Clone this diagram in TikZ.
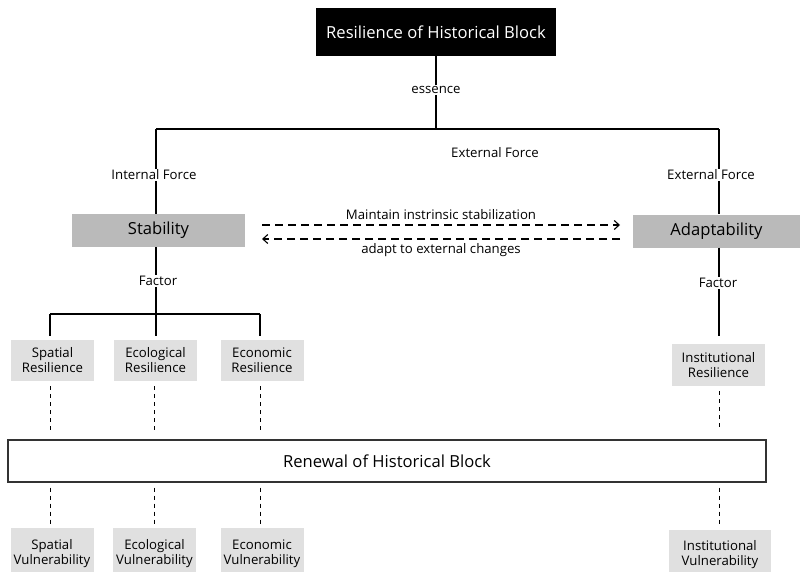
\documentclass[tikz,border=0pt]{standalone}
\usepackage{fontspec}
\setmainfont{Open Sans}
\usetikzlibrary{arrows.meta}
\begin{document}
\begin{tikzpicture}[x=1pt,y=-1pt,
  lbl/.style={font=\fontsize{13.2}{14}\selectfont, inner sep=1pt},
  topbox/.style={fill=black, text=white, font=\fontsize{16.6}{18}\selectfont, minimum width=240, minimum height=48, inner sep=0},
  midbox/.style={fill=black!27, font=\fontsize{16.6}{18}\selectfont, minimum width=173, minimum height=33, inner sep=0},
  smallbox/.style={fill=black!12, font=\fontsize{13.2}{15}\selectfont, align=center, minimum width=83, minimum height=41, inner sep=0},
  link/.style={line width=1.5pt, black},
  dlink/.style={line width=1pt, dash pattern=on 4pt off 4pt},
  darrow/.style={line width=1.1pt, dash pattern=on 8pt off 5pt, -{Straight Barb[length=5pt,width=9pt,line width=1.1pt]}}
]
\useasboundingbox (0,0) rectangle (800,572);
\fill[white] (0,0) rectangle (800,572);

\node[topbox] (top) at (436,32) {Resilience of Historical Block};
\node[lbl] (ess) at (436,90) {essence};
\coordinate (hl) at (156,129);
\coordinate (hr) at (719,129);
\coordinate (hm) at (436,129);
\node[lbl] (ext) at (495,153) {External Force};
\node[lbl] (intf) at (154,175) {Internal Force};
\node[lbl] (extr) at (711,175) {External Force};

\node[midbox] (stab) at (158.5,230.5) {Stability};
\node[midbox, minimum width=167] (adap) at (716.5,231) {Adaptability};

\node[lbl] (fac1) at (158,281) {Factor};
\node[lbl] (fac2) at (718,283) {Factor};

\coordinate (fh) at (156,314);
\coordinate (fl) at (50,314);
\coordinate (fr) at (260,314);

\node[smallbox] (sr) at (52.5,360.5) {Spatial\\Resilience};
\node[smallbox] (er) at (155.5,360.5) {Ecological\\Resilience};
\node[smallbox] (cr) at (262,360.5) {Economic\\Resilience};
\node[smallbox, minimum width=93, minimum height=42] (ir) at (718.5,365) {Institutional\\Resilience};

\node[draw=black!80, line width=1.2pt, minimum width=758, minimum height=42, inner sep=0, font=\fontsize{16.6}{18}\selectfont] (ren) at (387,461) {Renewal of Historical Block};

\node[smallbox, minimum height=52] (sv) at (52,554) {Spatial\\Vulnerability};
\node[smallbox, minimum height=52] (ev) at (154.5,554) {Ecological\\Vulnerability};
\node[smallbox, minimum height=52] (cv) at (262,554) {Economic\\Vulnerability};
\node[smallbox, minimum width=102, minimum height=49] (iv) at (720,554.5) {Institutional\\Vulnerability};

% tree links
\draw[link] (top.south) -- (ess.north);
\draw[link] (ess.south) -- (hm);
\draw[link] (hl) -- (hr);
\draw[link] (hl) -- (intf.north -| hl);
\draw[link] (hr) -- (extr.north -| hr);
\draw[link] (intf.south -| hl) -- (stab.north -| hl);
\draw[link] (extr.south -| hr) -- (adap.north -| hr);
\draw[link] (stab.south -| fh) -- (fac1.north -| fh);
\draw[link] (fac1.south -| fh) -- (fh);
\draw[link] (fl) -- (fr);
\draw[link] (fl) -- ([yshift=4pt]sr.north -| fl);
\draw[link] (fh) -- ([yshift=4pt]er.north -| fh);
\draw[link] (fr) -- ([yshift=4pt]cr.north -| fr);
\draw[link] (adap.south -| hr) -- (fac2.north -| hr);
\draw[link] (fac2.south -| hr) -- ([yshift=8pt]ir.north -| hr);

% dashed arrows
\draw[darrow] (262,225) -- node[lbl, above=4pt] (m1) {Maintain instrinsic stabilization} (620,225);
\draw[darrow] (620,239) -- node[lbl, below=3pt] (m2) {adapt to external changes} (262,239);

% dashed verticals
\foreach \a/\b/\x in {sr/sv/50, er/ev/154, cr/cv/260, ir/iv/719}{
  \draw[dlink] ([yshift=-5pt]\a.south -| \x,0) -- ([yshift=9pt]ren.north -| \x,0);
  \draw[dlink] ([yshift=-5pt]ren.south -| \x,0) -- ([yshift=4pt]\b.north -| \x,0);
}
\end{tikzpicture}
\end{document}
